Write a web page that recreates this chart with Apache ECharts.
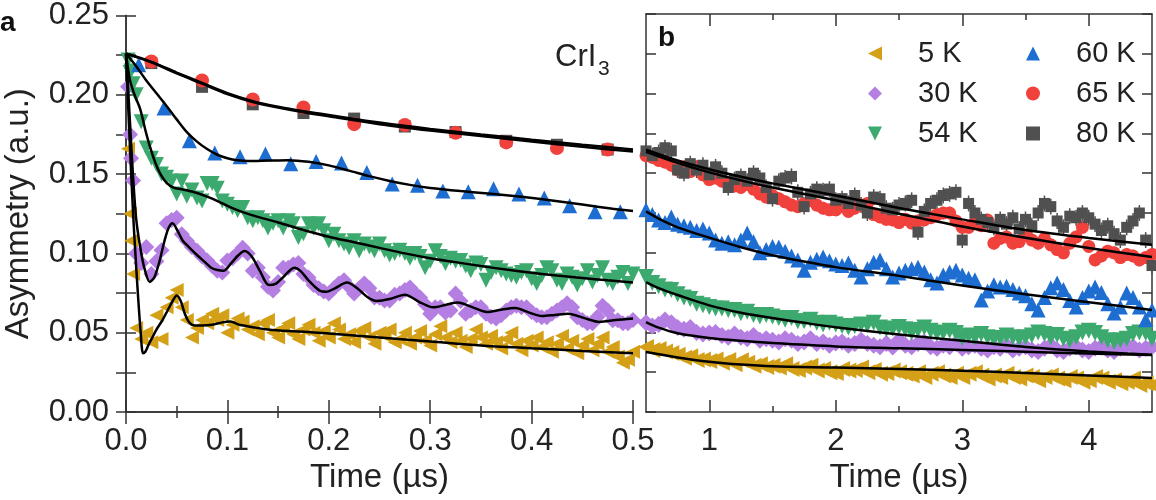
<!DOCTYPE html>
<html>
<head>
<meta charset="utf-8">
<title>CrI3 asymmetry</title>
<script src="https://cdn.jsdelivr.net/npm/echarts@6/dist/echarts.min.js"></script>
<style>html,body{margin:0;background:#fff}#main{width:1156px;height:500px}</style>
</head>
<body>
<div id="main"></div>
<script>
// ---- data ----
const seriesNames = ['5 K', '30 K', '54 K', '60 K', '65 K', '80 K'];

// panel a, dense samples (t = 0.005 ... 0.5 step 0.005)
const timeA = Array.from({ length: 100 }, (_, i) => +(0.005 * (i + 1)).toFixed(3));
const earlyTimeA = [0.002, 0.004, 0.007];
const early5K = [0.166, 0.125, 0.087];
const early30K = [0.205, 0.175, 0.146];
const early54K = [0.222, 0.214, 0.207];
const a5K = [
  0.108, 0.053, 0.046, 0.050, 0.044, 0.061, 0.046, 0.066, 0.072, 0.077,
  0.066, 0.058, 0.047, 0.053, 0.058, 0.056, 0.062, 0.058, 0.061, 0.050,
  0.055, 0.059, 0.057, 0.052, 0.054, 0.049, 0.056, 0.058, 0.050, 0.047,
  0.053, 0.056, 0.049, 0.046, 0.052, 0.055, 0.050, 0.045, 0.051, 0.047,
  0.056, 0.052, 0.046, 0.049, 0.044, 0.051, 0.053, 0.047, 0.043, 0.050,
  0.048, 0.052, 0.044, 0.046, 0.050, 0.043, 0.047, 0.051, 0.045, 0.042,
  0.049, 0.054, 0.047, 0.044, 0.050, 0.045, 0.041, 0.046, 0.052, 0.047,
  0.043, 0.048, 0.044, 0.040, 0.046, 0.050, 0.043, 0.039, 0.045, 0.042,
  0.047, 0.041, 0.044, 0.038, 0.043, 0.048, 0.040, 0.045, 0.037, 0.042,
  0.046, 0.039, 0.043, 0.047, 0.038, 0.041, 0.035, 0.031, 0.033, 0.038
];
const a30K = [
  0.160, 0.100, 0.094, 0.104, 0.087, 0.095, 0.102, 0.119, 0.121, 0.1225,
  0.112, 0.108, 0.104, 0.1017, 0.098, 0.0955, 0.092, 0.089, 0.088, 0.0955,
  0.097, 0.100, 0.1036, 0.100, 0.089, 0.091, 0.085, 0.079, 0.0766, 0.082,
  0.091, 0.091, 0.093, 0.094, 0.087, 0.0848, 0.080, 0.078, 0.076, 0.0747,
  0.078, 0.081, 0.083, 0.079, 0.0747, 0.078, 0.081, 0.078, 0.0722, 0.072,
  0.0703, 0.0703, 0.074, 0.0747, 0.077, 0.0785, 0.075, 0.0722, 0.068, 0.062,
  0.066, 0.066, 0.0628, 0.064, 0.0747, 0.070, 0.062, 0.064, 0.066, 0.066,
  0.062, 0.060, 0.059, 0.061, 0.064, 0.066, 0.067, 0.066, 0.066, 0.063,
  0.061, 0.0597, 0.0597, 0.062, 0.064, 0.066, 0.0685, 0.066, 0.0597, 0.058,
  0.056, 0.056, 0.060, 0.067, 0.064, 0.0578, 0.0578, 0.056, 0.056, 0.058
];
const a54K = [
  0.215, 0.200, 0.183, 0.1665, 0.160, 0.156, 0.150, 0.148, 0.1457, 0.1375,
  0.1457, 0.136, 0.140, 0.135, 0.133, 0.144, 0.144, 0.141, 0.133, 0.131,
  0.129, 0.127, 0.129, 0.1225, 0.1206, 0.1225, 0.1206, 0.116, 0.119, 0.1206,
  0.116, 0.1206, 0.1187, 0.110, 0.1124, 0.1187, 0.116, 0.1187, 0.1143, 0.108,
  0.112, 0.108, 0.106, 0.1036, 0.108, 0.1017, 0.106, 0.104, 0.1017, 0.106,
  0.1017, 0.099, 0.100, 0.102, 0.100, 0.097, 0.100, 0.098, 0.091, 0.095,
  0.1017, 0.098, 0.0936, 0.097, 0.095, 0.0955, 0.092, 0.089, 0.094, 0.093,
  0.083, 0.088, 0.091, 0.089, 0.087, 0.086, 0.085, 0.088, 0.089, 0.084,
  0.081, 0.086, 0.091, 0.089, 0.083, 0.081, 0.087, 0.085, 0.080, 0.084,
  0.089, 0.082, 0.086, 0.091, 0.083, 0.081, 0.085, 0.088, 0.081, 0.087
];

// panel a, sparse samples
const timeA60 = [0.0125, 0.0375, 0.0625, 0.0875, 0.1125, 0.1375, 0.1625, 0.1875, 0.2125, 0.2375,
  0.2625, 0.2875, 0.3125, 0.3375, 0.3625, 0.3875, 0.4125, 0.4375, 0.4625, 0.4875];
const a60K = [0.219, 0.1917, 0.171, 0.1633, 0.161, 0.1626, 0.1565, 0.158, 0.157, 0.151,
  0.1438, 0.143, 0.1394, 0.1388, 0.1407, 0.1375, 0.135, 0.130, 0.1262, 0.1262];
const timeA65 = [0.025, 0.075, 0.125, 0.175, 0.225, 0.275, 0.325, 0.375, 0.425, 0.475];
const a65K = [0.221, 0.209, 0.197, 0.192, 0.1815, 0.181, 0.176, 0.170, 0.1665, 0.1655];
const a80K = [0.220, 0.205, 0.194, 0.1885, 0.185, 0.180, 0.1765, 0.171, 0.1685, 0.1655];

// panel a fits [t, asymmetry]
const fitA5K = [[0,0.226],[0.003,0.180],[0.007,0.125],[0.010,0.092],[0.012,0.072],[0.0145,0.050],[0.0168,0.037],
  [0.019,0.038],[0.022,0.042],[0.026,0.047],[0.030,0.052],[0.036,0.058],[0.041,0.064],[0.046,0.070],[0.050,0.0735],
  [0.054,0.070],[0.058,0.062],[0.063,0.056],[0.068,0.0545],[0.075,0.0545],[0.085,0.055],[0.095,0.0565],[0.103,0.057],
  [0.112,0.055],[0.125,0.0535],[0.14,0.052],[0.16,0.051],[0.18,0.0505],[0.2,0.0495],[0.25,0.047],[0.3,0.0445],
  [0.35,0.042],[0.4,0.0402],[0.45,0.0385],[0.5,0.037]];
const fitA30K = [[0,0.226],[0.002,0.205],[0.005,0.170],[0.007,0.148],[0.010,0.122],[0.014,0.104],[0.018,0.091],
  [0.0235,0.082],[0.028,0.085],[0.033,0.095],[0.038,0.108],[0.042,0.116],[0.046,0.119],[0.051,0.114],[0.056,0.108],
  [0.062,0.104],[0.070,0.099],[0.077,0.095],[0.084,0.091],[0.090,0.0895],[0.096,0.089],[0.104,0.094],[0.111,0.099],
  [0.117,0.1015],[0.124,0.098],[0.132,0.089],[0.141,0.080],[0.148,0.081],[0.155,0.085],[0.166,0.091],[0.172,0.089],
  [0.180,0.083],[0.191,0.0765],[0.198,0.0758],[0.206,0.078],[0.218,0.0816],[0.228,0.078],[0.238,0.0725],[0.247,0.070],
  [0.260,0.0712],[0.275,0.0740],[0.289,0.0695],[0.303,0.0660],[0.315,0.0675],[0.327,0.0690],[0.342,0.0660],
  [0.356,0.0630],[0.370,0.0645],[0.384,0.0655],[0.397,0.0628],[0.410,0.0605],[0.423,0.0612],[0.436,0.0620],
  [0.452,0.0592],[0.467,0.0568],[0.483,0.0580],[0.5,0.0590]];
const fitA54K = [[0,0.226],[0.004,0.209],[0.009,0.199],[0.014,0.191],[0.019,0.178],[0.024,0.1665],[0.029,0.157],
  [0.034,0.150],[0.040,0.1445],[0.047,0.1415],[0.055,0.1405],[0.065,0.139],[0.075,0.137],[0.085,0.1345],[0.095,0.1315],
  [0.105,0.1285],[0.115,0.126],[0.130,0.123],[0.150,0.1195],[0.175,0.1148],[0.200,0.1105],[0.225,0.107],[0.250,0.1035],
  [0.275,0.100],[0.300,0.097],[0.325,0.0945],[0.350,0.092],[0.375,0.0898],[0.400,0.0878],[0.425,0.086],[0.450,0.0845],
  [0.475,0.083],[0.500,0.0816]];
const fitA60K = [[0,0.226],[0.01,0.218],[0.02,0.209],[0.03,0.201],[0.04,0.193],[0.05,0.1845],[0.06,0.1765],[0.07,0.1705],
  [0.08,0.1658],[0.09,0.1622],[0.1,0.1600],[0.11,0.1587],[0.12,0.1582],[0.14,0.1585],[0.16,0.1588],[0.18,0.1578],
  [0.2,0.1555],[0.22,0.1522],[0.24,0.1487],[0.26,0.1457],[0.28,0.1432],[0.3,0.1413],[0.33,0.1393],[0.36,0.1376],
  [0.39,0.1357],[0.42,0.1334],[0.45,0.1308],[0.48,0.1282],[0.5,0.1268]];
const fitA65K = [[0,0.226],[0.025,0.2205],[0.05,0.2135],[0.075,0.207],[0.1,0.2005],[0.125,0.1955],[0.15,0.192],
  [0.175,0.189],[0.2,0.1865],[0.25,0.1815],[0.3,0.1775],[0.35,0.174],[0.4,0.1705],[0.45,0.1672],[0.5,0.1642]];
const fitA80K = [[0,0.226],[0.025,0.2208],[0.05,0.214],[0.075,0.2075],[0.1,0.201],[0.125,0.196],[0.15,0.1925],
  [0.175,0.1897],[0.2,0.1873],[0.25,0.1825],[0.3,0.1785],[0.35,0.175],[0.4,0.1717],[0.45,0.1685],[0.5,0.1655]];

// panel b samples (t = 0.5 ... 4.5 step 0.05)
const timeB = Array.from({ length: 81 }, (_, i) => +(0.5 + 0.05 * i).toFixed(2));
const b5K = [
  0.0408, 0.039, 0.0395, 0.038, 0.037, 0.036, 0.034, 0.035, 0.0327, 0.033,
  0.032, 0.033, 0.031, 0.0327, 0.030, 0.0325, 0.031, 0.029, 0.030, 0.0283,
  0.029, 0.028, 0.030, 0.027, 0.0264, 0.028, 0.029, 0.026, 0.027, 0.025,
  0.0245, 0.027, 0.026, 0.0264, 0.028, 0.025, 0.0264, 0.024, 0.0245, 0.026,
  0.025, 0.024, 0.023, 0.025, 0.022, 0.024, 0.025, 0.023, 0.022, 0.024,
  0.022, 0.024, 0.025, 0.023, 0.021, 0.023, 0.022, 0.024, 0.022, 0.021,
  0.023, 0.022, 0.020, 0.022, 0.023, 0.021, 0.020, 0.022, 0.021, 0.019,
  0.020, 0.022, 0.021, 0.019, 0.020, 0.018, 0.019, 0.021, 0.017, 0.018,
  0.017
];
const b30K = [
  0.056, 0.054, 0.055, 0.0578, 0.056, 0.053, 0.052, 0.053, 0.050, 0.049,
  0.0496, 0.050, 0.048, 0.047, 0.049, 0.047, 0.046, 0.048, 0.045, 0.046,
  0.045, 0.044, 0.046, 0.045, 0.043, 0.044, 0.046, 0.043, 0.044, 0.042,
  0.0433, 0.044, 0.042, 0.043, 0.045, 0.043, 0.042, 0.041, 0.043, 0.0408,
  0.045, 0.042, 0.041, 0.043, 0.044, 0.041, 0.040, 0.042, 0.041, 0.043,
  0.040, 0.041, 0.042, 0.040, 0.039, 0.041, 0.040, 0.042, 0.039, 0.040,
  0.041, 0.039, 0.038, 0.040, 0.042, 0.039, 0.038, 0.040, 0.041, 0.039,
  0.038, 0.040, 0.041, 0.039, 0.038, 0.040, 0.042, 0.041, 0.039, 0.040,
  0.041
];
const b54K = [
  0.0848, 0.081, 0.079, 0.077, 0.0766, 0.074, 0.072, 0.071, 0.068, 0.067,
  0.066, 0.065, 0.065, 0.064, 0.064, 0.062, 0.063, 0.061, 0.060, 0.061,
  0.060, 0.059, 0.058, 0.059, 0.057, 0.057, 0.058, 0.056, 0.055, 0.056,
  0.055, 0.054, 0.053, 0.054, 0.055, 0.0546, 0.056, 0.053, 0.052, 0.0525,
  0.0534, 0.052, 0.050, 0.0515, 0.053, 0.051, 0.0496, 0.050, 0.051, 0.0496,
  0.0465, 0.048, 0.047, 0.049, 0.047, 0.046, 0.0465, 0.048, 0.047, 0.046,
  0.047, 0.048, 0.050, 0.049, 0.047, 0.0484, 0.046, 0.045, 0.047, 0.050,
  0.051, 0.0496, 0.047, 0.045, 0.044, 0.045, 0.046, 0.049, 0.050, 0.0496,
  0.046
];
const b60K = [
  0.127, 0.124, 0.1206, 0.119, 0.1225, 0.118, 0.117, 0.116, 0.114, 0.115,
  0.1124, 0.108, 0.106, 0.107, 0.105, 0.108, 0.1124, 0.107, 0.100, 0.102,
  0.104, 0.1036, 0.101, 0.098, 0.0955, 0.089, 0.094, 0.096, 0.0973, 0.095,
  0.093, 0.092, 0.0936, 0.089, 0.0848, 0.090, 0.094, 0.0955, 0.090, 0.0848,
  0.0873, 0.089, 0.090, 0.091, 0.088, 0.083, 0.081, 0.086, 0.088, 0.089,
  0.086, 0.084, 0.083, 0.0703, 0.076, 0.080, 0.0785, 0.079, 0.077, 0.0747,
  0.073, 0.068, 0.064, 0.072, 0.078, 0.081, 0.077, 0.070, 0.066, 0.072,
  0.076, 0.0785, 0.075, 0.068, 0.0622, 0.066, 0.0747, 0.072, 0.066, 0.058,
  0.064
];
const b65K = [
  0.161, 0.160, 0.158, 0.157, 0.155, 0.152, 0.154, 0.151, 0.154, 0.149,
  0.146, 0.147, 0.145, 0.144, 0.142, 0.141, 0.143, 0.140, 0.137, 0.135,
  0.136, 0.134, 0.132, 0.130, 0.129, 0.131, 0.133, 0.130, 0.128, 0.127,
  0.127, 0.129, 0.126, 0.128, 0.130, 0.131, 0.124, 0.1225, 0.121, 0.1206,
  0.119, 0.121, 0.1187, 0.120, 0.1206, 0.122, 0.124, 0.125, 0.125, 0.120,
  0.116, 0.116, 0.119, 0.117, 0.1206, 0.106, 0.109, 0.110, 0.106, 0.107,
  0.111, 0.108, 0.106, 0.109, 0.105, 0.102, 0.100, 0.106, 0.110, 0.116,
  0.104, 0.0955, 0.098, 0.101, 0.100, 0.097, 0.099, 0.098, 0.0955, 0.097,
  0.099
];
const b80K = [
  0.164, 0.161, 0.163, 0.166, 0.164, 0.152, 0.150, 0.156, 0.152, 0.155,
  0.149, 0.154, 0.150, 0.141, 0.146, 0.148, 0.145, 0.150, 0.147, 0.141,
  0.134, 0.145, 0.147, 0.148, 0.138, 0.129, 0.137, 0.140, 0.139, 0.140,
  0.133, 0.134, 0.131, 0.136, 0.130, 0.125, 0.135, 0.134, 0.128, 0.127,
  0.130, 0.131, 0.133, 0.113, 0.126, 0.131, 0.133, 0.136, 0.137, 0.138,
  0.108, 0.131, 0.125, 0.121, 0.119, 0.116, 0.121, 0.118, 0.122, 0.115,
  0.121, 0.117, 0.125, 0.131, 0.129, 0.120, 0.116, 0.123, 0.122, 0.125,
  0.122, 0.118, 0.114, 0.117, 0.112, 0.108, 0.116, 0.120, 0.125, 0.108,
  0.092
];
const errB = [0.002, 0.0025, 0.0025, 0.003, 0.004, 0.005];

// panel b fits
const fitB5K = [[0.5,0.0377],[0.75,0.0343],[1.0,0.0316],[1.25,0.0298],[1.5,0.0287],[2.0,0.0279],[2.5,0.0270],
  [3.0,0.0259],[3.5,0.0245],[4.0,0.0230],[4.5,0.0214]];
const fitB30K = [[0.5,0.0565],[0.6,0.0530],[0.75,0.0495],[1.0,0.0465],[1.25,0.0447],[1.5,0.0433],[2.0,0.0412],
  [2.5,0.0400],[3.0,0.0390],[3.5,0.0378],[4.0,0.0367],[4.5,0.0358]];
const fitB54K = [[0.5,0.0816],[0.6,0.0778],[0.75,0.0735],[1.0,0.0670],[1.25,0.0624],[1.5,0.0590],[1.75,0.0560],
  [2.0,0.0532],[2.5,0.0487],[3.0,0.0447],[3.5,0.0408],[4.0,0.0380],[4.5,0.0360]];
const fitB60K = [[0.5,0.1260],[0.6,0.1215],[0.75,0.1160],[1.0,0.1095],[1.25,0.1035],[1.5,0.0985],[1.75,0.0945],
  [2.0,0.0910],[2.5,0.0855],[3.0,0.0795],[3.5,0.0740],[4.0,0.0690],[4.5,0.0640]];
const fitB65K = [[0.5,0.1635],[0.75,0.1565],[1.0,0.1505],[1.25,0.1455],[1.5,0.1410],[2.0,0.1330],[2.5,0.1245],
  [3.0,0.1165],[3.5,0.1095],[4.0,0.1030],[4.5,0.0973]];
const fitB80K = [[0.5,0.1648],[0.75,0.1580],[1.0,0.1525],[1.25,0.1478],[1.5,0.1436],[2.0,0.1360],[2.5,0.1282],
  [3.0,0.1210],[3.5,0.1143],[4.0,0.1093],[4.5,0.1050]];

// ---- styling ----
const FONT = '"Liberation Sans", Arial, Helvetica, sans-serif';
const colors = ['#D4A017', '#B47EE2', '#3CAA6E', '#1E6ED2', '#F0413C', '#505050'];
const symbols = ['triangle', 'diamond', 'triangle', 'triangle', 'circle', 'rect'];
const rotations = [90, 0, 180, 0, 0, 0];
const legendIcons = ['path://M0,5L10,0L10,10Z', 'diamond', 'path://M0,0L10,0L5,10Z', 'triangle', 'circle', 'rect'];
const sizesA = [14, 16, 15, 15, 14, 12];
const sizesB = [16, 17, 16, 15, 13, 11];
const AX = '#333';

const pair = (ts, ys) => ts.map((t, i) => [t, ys[i]]);

function scatter(k, xi, yi, pts, size) {
  return {
    type: 'scatter', name: seriesNames[k], xAxisIndex: xi, yAxisIndex: yi, data: pts,
    symbol: symbols[k], symbolRotate: rotations[k], symbolSize: size, symbolKeepAspect: true,
    itemStyle: { color: colors[k], opacity: 1 }, z: 2, silent: true
  };
}
function fitLine(xi, yi, pts) {
  return {
    type: 'line', xAxisIndex: xi, yAxisIndex: yi, data: pts, showSymbol: false, smooth: 0.3,
    lineStyle: { color: '#000', width: 2.5 }, z: 5, silent: true
  };
}
function errBars(k, xi, yi, pts) {
  return {
    type: 'custom', xAxisIndex: xi, yAxisIndex: yi, z: 1, silent: true,
    data: pts.map(p => [p[0], p[1], errB[k]]),
    renderItem: (params, api) => {
      const a = api.coord([api.value(0), api.value(1) - api.value(2)]);
      const b = api.coord([api.value(0), api.value(1) + api.value(2)]);
      return { type: 'line', shape: { x1: a[0], y1: a[1], x2: b[0], y2: b[1] },
        style: { stroke: colors[k], lineWidth: 1.5 } };
    }
  };
}

const tickStyle = { color: AX, width: 1.5 };
const frame = { show: true, lineStyle: { color: AX, width: 1.5 } };
const labelFont = { fontSize: 31, color: '#222', fontFamily: FONT };
const nameFont = { fontSize: 33, color: '#222', fontFamily: FONT };

function xA(pos, labels) {
  return {
    type: 'value', gridIndex: 0, position: pos, min: 0, max: 0.5, interval: 0.1,
    axisLine: frame, splitLine: { show: false },
    axisTick: { inside: true, length: 12, lineStyle: tickStyle },
    minorTick: { show: true, splitNumber: 2, length: 6, lineStyle: tickStyle },
    axisLabel: labels ? Object.assign({ margin: 14, formatter: v => v.toFixed(1) }, labelFont) : { show: false },
    name: labels ? 'Time (µs)' : '', nameLocation: 'middle', nameGap: 47, nameTextStyle: nameFont
  };
}
function xB(pos, major, labels) {
  return {
    type: 'value', gridIndex: 1, position: pos, min: 0.5, max: 4.5, interval: 0.5,
    axisLine: major ? frame : { show: false }, splitLine: { show: false },
    axisTick: { inside: true, length: major ? 12 : 6, lineStyle: tickStyle,
      customValues: major ? [1, 2, 3, 4] : [1.5, 2.5, 3.5] },
    axisLabel: labels ? Object.assign({ margin: 14, customValues: [1, 2, 3, 4],
      formatter: v => (Number.isInteger(v) ? String(v) : '') }, labelFont) : { show: false },
    name: labels ? 'Time (µs)' : '', nameLocation: 'middle', nameGap: 47, nameTextStyle: nameFont
  };
}
function yAx(grid, pos, labels) {
  return {
    type: 'value', gridIndex: grid, position: pos, min: 0, max: 0.25, interval: 0.025,
    axisLine: frame, splitLine: { show: false },
    axisTick: { inside: true, length: 10, lineStyle: tickStyle },
    axisLabel: labels ? Object.assign({ margin: 17,
      formatter: v => (Math.round(v * 1000) % 50 === 0 ? v.toFixed(2) : '') }, labelFont) : { show: false },
    name: labels ? 'Asymmetry (a.u.)' : '', nameLocation: 'middle', nameGap: 91, nameRotate: 90,
    nameTextStyle: nameFont
  };
}

const series = [
  scatter(0, 0, 0, pair(earlyTimeA, early5K).concat(pair(timeA, a5K)), sizesA[0]),
  scatter(1, 0, 0, pair(earlyTimeA, early30K).concat(pair(timeA, a30K)), sizesA[1]),
  scatter(2, 0, 0, pair(earlyTimeA, early54K).concat(pair(timeA, a54K)), sizesA[2]),
  scatter(3, 0, 0, pair(timeA60, a60K), sizesA[3]),
  scatter(5, 0, 0, pair(timeA65, a80K), sizesA[5]),
  scatter(4, 0, 0, pair(timeA65, a65K), sizesA[4]),
  fitLine(0, 0, fitA5K), fitLine(0, 0, fitA30K), fitLine(0, 0, fitA54K),
  fitLine(0, 0, fitA60K), fitLine(0, 0, fitA65K), fitLine(0, 0, fitA80K)
];
const bData = [b5K, b30K, b54K, b60K, b65K, b80K];
bData.forEach((ys, k) => {
  const pts = pair(timeB, ys);
  series.push(errBars(k, 2, 2, pts));
  series.push(scatter(k, 2, 2, pts, sizesB[k]));
});
[fitB5K, fitB30K, fitB54K, fitB60K, fitB65K, fitB80K].forEach(f => series.push(fitLine(2, 2, f)));

const legendBase = {
  orient: 'vertical', top: 39, itemWidth: 14, itemHeight: 14, itemGap: 11, padding: 0,
  symbolKeepAspect: true, selectedMode: false,
  textStyle: { fontSize: 29, color: '#222', fontFamily: FONT, padding: [0, 0, 0, 31] }
};
const legendData = ks => ks.map(k => ({ name: seriesNames[k], icon: legendIcons[k] }));

const chart = echarts.init(document.getElementById('main'), null, { renderer: 'canvas' });
chart.setOption({
  animation: false,
  backgroundColor: '#fff',
  grid: [
    { left: 126, top: 14, width: 507, height: 398 },
    { left: 646, top: 14, width: 506, height: 398 }
  ],
  xAxis: [xA('bottom', true), xA('top', false),
    xB('bottom', true, true), xB('bottom', false, false), xB('top', true, false), xB('top', false, false)],
  yAxis: [yAx(0, 'left', true), yAx(0, 'right', false), yAx(1, 'left', false), yAx(1, 'right', false)],
  legend: [
    Object.assign({ left: 868, data: legendData([0, 1, 2]) }, legendBase),
    Object.assign({ left: 1026, data: legendData([3, 4, 5]) }, legendBase)
  ],
  graphic: [
    { type: 'text', left: 0, top: 9, style: { text: 'a', font: 'bold 28px ' + FONT, fill: '#111' } },
    { type: 'text', left: 658, top: 24, style: { text: 'b', font: 'bold 28px ' + FONT, fill: '#111' } },
    { type: 'text', left: 555, top: 42, style: { text: 'CrI', font: '31px ' + FONT, fill: '#222' } },
    { type: 'text', left: 598, top: 59, style: { text: '3', font: '21px ' + FONT, fill: '#222' } }
  ],
  series: series
});
</script>
</body>
</html>
